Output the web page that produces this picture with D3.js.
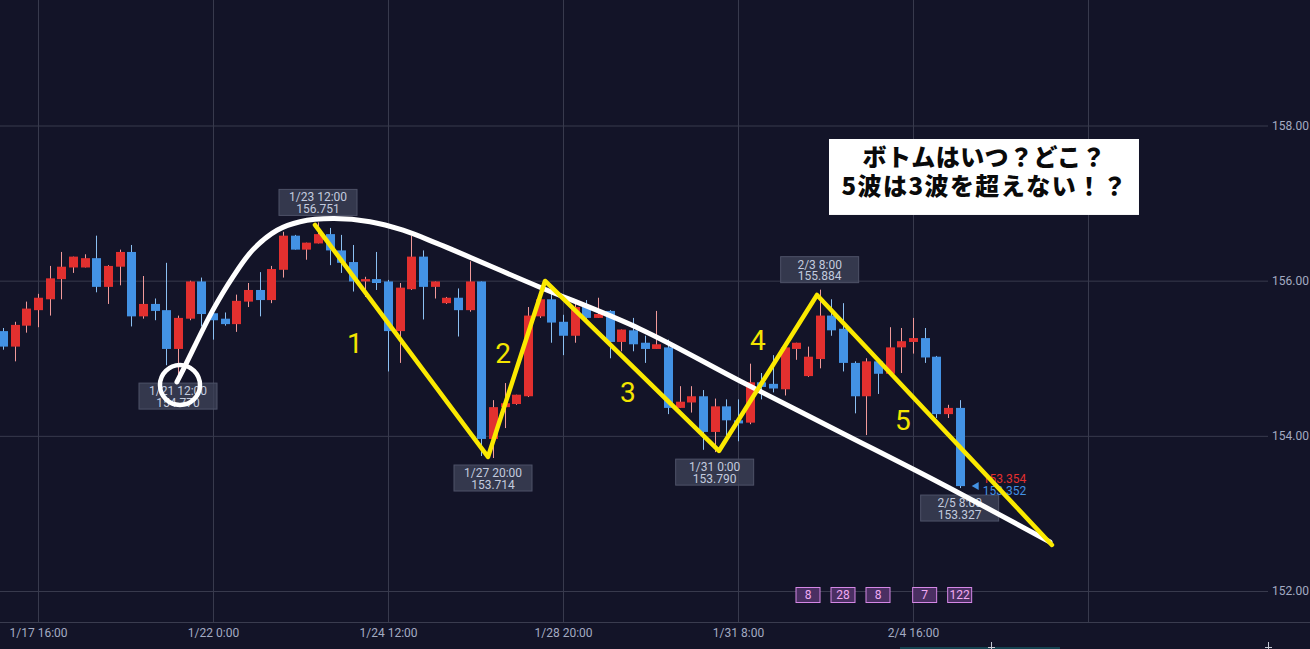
<!DOCTYPE html>
<html>
<head>
<meta charset="utf-8">
<script src="https://cdn.jsdelivr.net/npm/d3@7"></script>
<style>
  html, body { margin: 0; padding: 0; background: #131428; overflow: hidden; }
  svg { display: block; }
</style>
</head>
<body>
<div class="canvas"></div>
<script>
// 4h candles, bar 0 = 1/17 16:00 (weekend bars skipped)
const barIndex = d3.range(-3, 80);
const open = [
  155.35, 155.15, 155.42, 155.62, 155.76, 156.02, 156.17, 156.17, 156.29, 155.92,
  156.18, 156.37, 155.54, 155.70, 155.62, 155.12, 155.51, 155.99, 155.58, 155.51,
  155.44, 155.73, 155.88, 155.75, 156.14, 156.58, 156.40, 156.48, 156.60, 156.39,
  156.24, 155.99, 156.02, 155.99, 155.35, 155.89, 156.31, 155.92, 155.71, 155.78,
  155.62, 155.99, 153.96, 154.37, 154.41, 154.51, 155.54, 155.76, 155.47, 155.29,
  155.67, 155.52, 155.61, 155.21, 155.36, 155.20, 155.12, 155.14, 154.36, 154.43,
  154.51, 154.05, 154.38, 154.20, 154.17, 154.69, 154.67, 154.60, 155.12, 154.77,
  154.99, 155.55, 155.38, 154.94, 154.51, 154.96, 154.80, 155.14, 155.21, 155.26,
  155.02, 154.28, 154.36
];
const high = [
  155.39, 155.47, 155.73, 155.83, 156.19, 156.37, 156.31, 156.34, 156.58, 156.20,
  156.40, 156.46, 156.06, 155.77, 156.23, 155.55, 156.00, 156.04, 155.59, 155.59,
  155.82, 155.97, 156.11, 156.19, 156.63, 156.59, 156.49, 156.751, 156.68, 156.59,
  156.46, 156.05, 156.37, 156.01, 155.97, 156.58, 156.39, 155.99, 155.79, 155.90,
  156.25, 155.99, 154.46, 154.68, 154.53, 155.66, 155.92, 155.91, 155.56, 155.71,
  155.75, 155.78, 155.62, 155.37, 155.52, 155.29, 155.61, 155.24, 154.64, 154.64,
  154.59, 154.48, 154.47, 154.47, 154.93, 154.81, 155.04, 155.14, 155.20, 155.15,
  155.884, 155.76, 155.71, 154.96, 155.00, 155.00, 155.40, 155.39, 155.52, 155.39,
  155.03, 154.40, 154.46
];
const low = [
  155.11, 154.96, 155.33, 155.40, 155.55, 155.76, 156.10, 156.17, 155.85, 155.70,
  155.94, 155.41, 155.51, 155.49, 154.91, 154.77, 155.49, 155.41, 155.24, 155.42,
  155.34, 155.66, 155.54, 155.71, 156.04, 156.40, 156.27, 156.48, 156.20, 156.10,
  155.86, 155.79, 155.88, 154.83, 154.94, 155.88, 155.50, 155.77, 155.70, 155.28,
  155.60, 153.74, 153.714, 154.10, 154.40, 154.50, 155.52, 155.20, 155.04, 155.20,
  155.44, 155.52, 155.00, 155.09, 155.09, 154.94, 155.12, 154.28, 154.36, 154.30,
  153.82, 153.79, 153.99, 153.93, 154.15, 154.47, 154.56, 154.52, 154.98, 154.76,
  154.87, 155.29, 154.83, 154.29, 154.01, 154.54, 154.77, 154.81, 155.06, 154.94,
  154.23, 154.23, 153.327
];
const close = [
  155.15, 155.43, 155.64, 155.78, 156.03, 156.18, 156.31, 156.29, 155.92, 156.19,
  156.37, 155.54, 155.70, 155.61, 155.12, 155.52, 155.99, 155.57, 155.49, 155.44,
  155.74, 155.88, 155.75, 156.15, 156.58, 156.40, 156.49, 156.60, 156.39, 156.23,
  155.99, 156.02, 155.97, 155.35, 155.91, 156.31, 155.92, 155.99, 155.78, 155.62,
  155.99, 153.96, 154.37, 154.42, 154.53, 155.55, 155.76, 155.46, 155.29, 155.66,
  155.52, 155.57, 155.21, 155.37, 155.18, 155.12, 155.18, 154.36, 154.44, 154.51,
  154.05, 154.38, 154.20, 154.16, 154.69, 154.63, 154.61, 155.14, 155.20, 155.02,
  155.55, 155.36, 154.94, 154.51, 154.96, 154.80, 155.14, 155.22, 155.26, 155.01,
  154.28, 154.36, 153.352
];

// axes
const timeTicks = [0, 15, 30, 45, 60, 75, 90];
const timeTickLabels = ["1/17 16:00", "1/22 0:00", "1/24 12:00", "1/28 20:00", "1/31 8:00", "2/4 16:00", ""];
const priceTicks = [152, 154, 156, 158];

// marked highs / lows
const markIdx = [12, 24, 39, 58, 67, 79];
const markTime = ["1/21 12:00", "1/23 12:00", "1/27 20:00", "1/31 0:00", "2/3 8:00", "2/5 8:00"];
const markPrice = [154.770, 156.751, 153.714, 153.790, 155.884, 153.327];
const markSide = ["low", "high", "low", "low", "high", "low"];

// current bid / ask
const askPrice = 153.354;
const bidPrice = 153.352;

// trade counts near the bottom
const countIdx = [66, 69, 72, 76, 79];
const countVals = [8, 28, 8, 7, 122];

// hand drawn yellow wave
const waveIdx = [23.74, 38.57, 43.46, 58.37, 66.77, 86.91];
const wavePrice = [156.718, 153.728, 155.996, 153.805, 155.816, 152.594];
const waveLabels = ["1", "2", "3", "4", "5"];
const waveLabelIdx = [27.17, 39.86, 50.57, 61.71, 74.14];
const waveLabelPrice = [155.197, 155.068, 154.565, 155.235, 154.204];

// hand drawn white arc
const arcIdx = [11.91, 12.6, 14.99, 16.71, 18.43, 20.49, 22.46, 25.29, 28.46, 31.29,
  34.2, 42.77, 51.6, 60.17, 68.74, 77.31, 86.74];
const arcPrice = [154.695, 154.90, 155.62, 156.05, 156.40, 156.65, 156.76, 156.80, 156.76, 156.65,
  156.48, 155.932, 155.378, 154.707, 154.05, 153.392, 152.632];
const ringIdx = 12.17;
const ringPrice = 154.656;

// note box (corners in bar / price)
const noteIdx = [67.8, 94.37];
const notePrice = [157.826, 156.847];
const noteLines = ["ボトムはいつ？どこ？", "5波は3波を超えない！？"];

const width = 1310;
const height = 649;
const plotWidth = 1268;
const plotHeight = 622;

const svg = d3
  .select(".canvas")
  .append("svg")
  .attr("width", width)
  .attr("height", height);

svg.append("rect").attr("width", width).attr("height", height).attr("fill", "#131428");

// scales
const x = d3.scaleLinear().domain([0, 90]).range([38, 1088]);
const y = d3.scaleLinear().domain([152, 158]).range([591, 125.5]);

const uiFont = "Roboto, 'Noto Sans', sans-serif";

// grid + axes
const xAxis = d3
  .axisBottom(x)
  .tickValues(timeTicks)
  .tickSize(-plotHeight)
  .tickPadding(6)
  .tickFormat((d, i) => timeTickLabels[i]);

const xAxisGroup = svg
  .append("g")
  .attr("transform", `translate(0,${plotHeight})`)
  .call(xAxis);

const yAxis = d3
  .axisRight(y)
  .tickValues(priceTicks)
  .tickSize(plotWidth)
  .tickPadding(7)
  .tickFormat(d3.format(".2f"));

const yAxisGroup = svg.append("g").call(yAxis);

[xAxisGroup, yAxisGroup].forEach((g) => {
  g.select(".domain").remove();
  g.selectAll("line").attr("stroke", "#383a4d").attr("stroke-width", 1);
  g.selectAll("text")
    .attr("fill", "#a3abc2")
    .style("font-family", uiFont)
    .style("font-size", "12px");
});

// price labels sit flush with the right edge
yAxisGroup
  .selectAll("text")
  .attr("x", width - 1)
  .attr("text-anchor", "end");

svg
  .append("line")
  .attr("x1", 0)
  .attr("x2", width)
  .attr("y1", plotHeight + 0.5)
  .attr("y2", plotHeight + 0.5)
  .attr("stroke", "#3a3c4f");

// candles
const candles = barIndex.map((k, i) => ({
  k: k,
  o: open[i],
  h: high[i],
  l: low[i],
  c: close[i],
}));

const bodyW = 9;
const candleGroup = svg.append("g").attr("class", "candles");

candleGroup
  .selectAll("line")
  .data(candles)
  .enter()
  .append("line")
  .attr("x1", (d) => Math.round(x(d.k)) + 0.5)
  .attr("x2", (d) => Math.round(x(d.k)) + 0.5)
  .attr("y1", (d) => y(d.h))
  .attr("y2", (d) => y(d.l))
  .attr("stroke", (d) => (d.c >= d.o ? "#f19a9a" : "#8cc0f2"))
  .attr("stroke-width", 1);

candleGroup
  .selectAll("rect")
  .data(candles)
  .enter()
  .append("rect")
  .attr("x", (d) => Math.round(x(d.k)) + 0.5 - bodyW / 2)
  .attr("width", bodyW)
  .attr("y", (d) => y(Math.max(d.o, d.c)))
  .attr("height", (d) => Math.max(1, Math.abs(y(d.o) - y(d.c))))
  .attr("fill", (d) => (d.c >= d.o ? "#e2302f" : "#4392e4"));

// trade counts
const counts = svg
  .append("g")
  .selectAll("g")
  .data(countVals)
  .enter()
  .append("g")
  .attr("transform", (d, i) => `translate(${x(countIdx[i])},${plotHeight - 27})`);

counts
  .append("rect")
  .attr("x", -12)
  .attr("y", -7.5)
  .attr("width", 24)
  .attr("height", 15)
  .attr("fill", "#4a2f62")
  .attr("stroke", "#d587e6")
  .attr("stroke-width", 1);

counts
  .append("text")
  .attr("text-anchor", "middle")
  .attr("dy", "0.36em")
  .attr("fill", "#f0aaf2")
  .style("font-family", uiFont)
  .style("font-size", "12px")
  .text((d) => d);

// high / low labels
const marks = svg
  .append("g")
  .selectAll("g")
  .data(markIdx)
  .enter()
  .append("g")
  .attr("transform", (d, i) => {
    const top = markSide[i] === "high" ? y(markPrice[i]) - 7 - 26 : y(markPrice[i]) + 7;
    return `translate(${x(d)},${top})`;
  });

marks
  .append("rect")
  .attr("x", -39)
  .attr("width", 78)
  .attr("height", 26)
  .attr("fill", "rgba(62,66,88,0.78)")
  .attr("stroke", "#4e5268")
  .attr("stroke-width", 1);

marks
  .append("text")
  .attr("text-anchor", "middle")
  .attr("y", 12)
  .attr("fill", "#c3cbdf")
  .style("font-family", uiFont)
  .style("font-size", "12px")
  .text((d, i) => markTime[i]);

marks
  .append("text")
  .attr("text-anchor", "middle")
  .attr("y", 23.5)
  .attr("fill", "#c3cbdf")
  .style("font-family", uiFont)
  .style("font-size", "12px")
  .text((d, i) => markPrice[i].toFixed(3));

// current price
const lastX = x(barIndex[barIndex.length - 1]);
const priceTag = svg.append("g").attr("transform", `translate(${lastX},${y(bidPrice)})`);

priceTag
  .append("path")
  .attr("d", "M12,0 L19,-4 L19,4 Z")
  .attr("fill", "#4392e4");

priceTag
  .append("text")
  .attr("x", 23)
  .attr("y", -3.5)
  .attr("fill", "#e2302f")
  .style("font-family", uiFont)
  .style("font-size", "12px")
  .text(askPrice.toFixed(3));

priceTag
  .append("text")
  .attr("x", 23)
  .attr("y", 8.5)
  .attr("fill", "#4392e4")
  .style("font-family", uiFont)
  .style("font-size", "12px")
  .text(bidPrice.toFixed(3));

// white arc + ring
const arcLine = d3
  .line()
  .x((d) => x(d[0]))
  .y((d) => y(d[1]))
  .curve(d3.curveCatmullRom.alpha(0.5));

svg
  .append("path")
  .attr("d", arcLine(arcIdx.map((k, i) => [k, arcPrice[i]])))
  .attr("fill", "none")
  .attr("stroke", "#ffffff")
  .attr("stroke-width", 5)
  .attr("stroke-linecap", "round");

svg
  .append("circle")
  .attr("cx", x(ringIdx))
  .attr("cy", y(ringPrice))
  .attr("r", 20)
  .attr("fill", "none")
  .attr("stroke", "#ffffff")
  .attr("stroke-width", 4.5);

// yellow wave
const waveLine = d3
  .line()
  .x((d) => x(d[0]))
  .y((d) => y(d[1]));

svg
  .append("path")
  .attr("d", waveLine(waveIdx.map((k, i) => [k, wavePrice[i]])))
  .attr("fill", "none")
  .attr("stroke", "#fbe900")
  .attr("stroke-width", 4.5)
  .attr("stroke-linejoin", "round")
  .attr("stroke-linecap", "round");

svg
  .append("g")
  .selectAll("text")
  .data(waveLabels)
  .enter()
  .append("text")
  .attr("x", (d, i) => x(waveLabelIdx[i]))
  .attr("y", (d, i) => y(waveLabelPrice[i]) + 10)
  .attr("text-anchor", "middle")
  .attr("fill", "#f3e500")
  .style("font-family", "'Liberation Sans Narrow', 'Roboto', sans-serif")
  .style("font-size", "28px")
  .text((d) => d);

// note box
const noteX = x(noteIdx[0]);
const noteW = x(noteIdx[1]) - noteX;
const noteY = y(notePrice[0]);
const noteH = y(notePrice[1]) - noteY;
const noteWidths = [243, 285];

svg
  .append("rect")
  .attr("x", noteX)
  .attr("y", noteY)
  .attr("width", noteW)
  .attr("height", noteH)
  .attr("fill", "#ffffff");

svg
  .append("text")
  .attr("text-anchor", "middle")
  .attr("fill", "#0a0a0a")
  .style("font-family", "'Noto Sans CJK JP', sans-serif")
  .style("font-weight", "900")
  .style("font-size", "24px")
  .selectAll("tspan")
  .data(noteLines)
  .enter()
  .append("tspan")
  .attr("x", noteX + noteW / 2)
  .attr("y", (d, i) => noteY + 27 + i * 29)
  .attr("textLength", (d, i) => noteWidths[i])
  .attr("lengthAdjust", "spacing")
  .text((d) => d);

// bits of the pane below
svg
  .append("rect")
  .attr("x", 900)
  .attr("y", height - 2)
  .attr("width", 160)
  .attr("height", 2)
  .attr("fill", "#17606a")
  .attr("opacity", 0.6);

[991, 1268].forEach((px) => {
  svg
    .append("path")
    .attr("d", `M${px + 0.5},${height - 7} V${height} M${px - 3},${height - 1.5} H${px + 4}`)
    .attr("stroke", "#c4c8d4")
    .attr("stroke-width", 1)
    .attr("fill", "none");
});
</script>
</body>
</html>
